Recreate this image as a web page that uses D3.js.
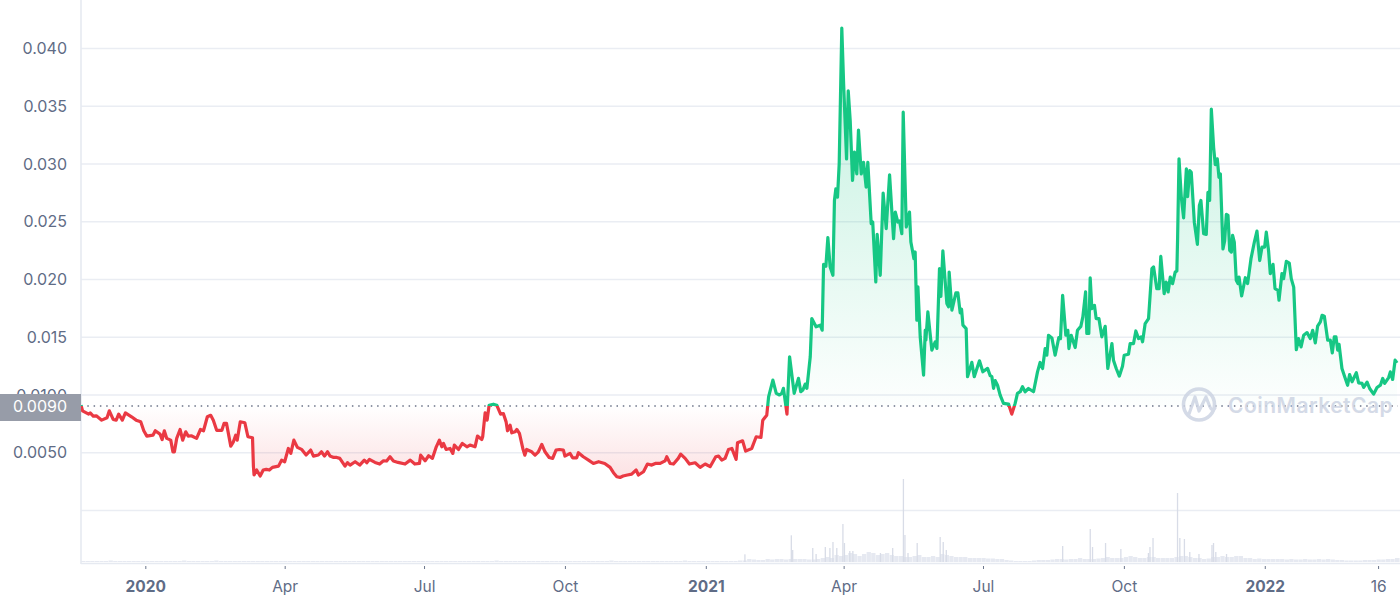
<!DOCTYPE html>
<html><head><meta charset="utf-8">
<script src="https://cdn.jsdelivr.net/npm/d3@7/dist/d3.min.js"></script>
<style>html,body{margin:0;padding:0;background:#fff;overflow:hidden}svg{display:block}
text{font-family:Inter,"Noto Sans",sans-serif}</style></head><body><div id="c"></div>
<script>
// [days since 2019-11-20, price USD]
const pricePoints=[[0,.00908],[1,.00859],[5,.0083],[6,.00841],[8,.00813],[10,.00815],[13.5,.00778],[17,.00798],[18.5,.00859],[21,.00784],[23,.00778],[24.6,.0083],[27,.00778],[29,.00841],[33,.00807],[36,.00778],[39,.00764],[41,.00686],[43,.0064],[47,.00648],[48.5,.00686],[51.6,.00657],[53,.0061],[54.4,.00686],[56,.0062],[58.6,.00605],[60,.00504],[61,.00504],[62.5,.0062],[64.7,.00697],[66.4,.00605],[68.4,.00677],[70,.0064],[72,.00643],[75.5,.0062],[78,.00697],[80,.00686],[82.5,.00807],[84.7,.0082],[86.4,.00778],[88.6,.0069],[92,.0069],[93.4,.0075],[95,.0075],[97.8,.00553],[99.5,.0059],[101,.00648],[102,.00605],[104,.00764],[107,.00755],[109,.00634],[112,.00625],[112.6,.00375],[113,.00303],[114.7,.00346],[117,.00294],[119,.00346],[121,.00352],[123,.00346],[125,.00369],[129,.0038],[131,.00432],[133,.00418],[135.4,.00533],[137,.0049],[139,.00605],[141.3,.00542],[144,.00525],[147,.00476],[150,.00519],[151.8,.00467],[155,.00476],[157,.00504],[159,.00467],[161,.00504],[162.6,.00467],[165,.00455],[167,.00455],[169,.00447],[172.4,.0038],[174,.0041],[175.7,.00389],[179,.00418],[182,.00389],[185,.00432],[186.6,.00409],[188.3,.00438],[192,.00412],[195,.00398],[197.5,.00426],[199.6,.00424],[201.8,.00461],[204,.00424],[207,.00412],[211.6,.00398],[215,.00432],[218,.00398],[221,.00403],[221.8,.00475],[224.7,.00426],[227,.0047],[229.5,.00447],[232,.00547],[234,.00605],[235.6,.00547],[236.7,.00576],[238.4,.00524],[241,.00533],[242.8,.0049],[243.8,.00562],[246.5,.00524],[249,.00576],[252,.00547],[254,.00562],[257.3,.00547],[258.9,.0064],[261.7,.0061],[262.3,.00634],[263.9,.00841],[265.2,.00778],[266.5,.00907],[269.3,.00916],[271.5,.00907],[274,.0083],[275.8,.00835],[277.6,.00763],[278.5,.00686],[280.2,.00735],[281.3,.00668],[283.5,.00677],[284.6,.00697],[286.3,.00663],[288.5,.00533],[289.8,.00475],[291,.00524],[294.3,.00504],[296.5,.00475],[298.7,.00504],[300.9,.00568],[303,.00504],[305.7,.00455],[308,.00447],[310.2,.00519],[312.4,.00524],[315,.00519],[316,.00467],[319.4,.0049],[321,.00452],[323.7,.00452],[324.8,.00496],[328,.00461],[331.4,.00432],[334.6,.00403],[338,.00418],[342,.00403],[345.5,.00369],[347.7,.00323],[349.9,.00288],[352,.00282],[354,.00294],[356.8,.00303],[359.6,.00311],[362.5,.00346],[364,.00303],[367.3,.00331],[369.9,.00398],[372.7,.00389],[375,.00403],[378.2,.00403],[381.4,.00426],[382.5,.00461],[384.7,.00403],[386.9,.00398],[390,.00447],[391.6,.00484],[394.5,.00447],[397.3,.00398],[401,.00409],[404.3,.00369],[407.6,.00398],[410.8,.00375],[414.5,.00461],[416.3,.00467],[418.4,.00432],[420.6,.00447],[422.8,.00524],[425,.00533],[427.8,.00438],[428.7,.00582],[432,.00599],[434,.0051],[438,.00533],[440.9,.00634],[444,.00628],[445.2,.00778],[447.8,.00821],[449,.0098],[451.8,.01125],[454,.0101],[456.1,.00996],[457.6,.0101],[458.7,.01053],[461,.0083],[462.7,.01327],[465.7,.0101],[468.5,.0114],[470,.01024],[471.4,.01039],[472.9,.0109],[474,.01053],[476.2,.01327],[477.2,.01658],[480,.01586],[482.7,.016],[484,.01557],[484.9,.02127],[486.4,.0211],[487.7,.02358],[489.2,.02104],[491,.02032],[492,.0268],[492.9,.0278],[494,.02709],[495.1,.02997],[496.8,.04172],[498,.03688],[499.9,.0304],[501,.0363],[502.3,.0337],[503.8,.02853],[505.1,.03098],[506.6,.0291],[507.7,.0329],[509.5,.0291],[511,.0301],[512.7,.02796],[513.8,.0301],[516,.02479],[517,.02493],[519,.01975],[519.9,.02387],[521.9,.02032],[523.8,.02744],[525.8,.02436],[528,.02902],[530.6,.02349],[531.7,.0258],[533.4,.02493],[534.5,.02502],[536,.02392],[536.9,.03444],[538.9,.0245],[541,.0258],[541.9,.0232],[543.9,.02176],[544.7,.02234],[545.8,.01644],[546.5,.01932],[548,.015],[550.2,.01168],[551.3,.01557],[551.7,.0147],[553,.01716],[555.6,.01384],[557.8,.01456],[558.9,.01399],[560.6,.0209],[561.5,.0185],[562.8,.02243],[565.4,.01788],[566.5,.01759],[566.9,.0206],[568.7,.0173],[571.3,.0188],[572.6,.0188],[574.1,.01707],[575,.01739],[575.9,.016],[578,.0157],[578.9,.01154],[581.7,.01278],[583.3,.01154],[586.7,.01292],[588.9,.01197],[592,.01226],[593.7,.01163],[594.8,.01154],[595.9,.01053],[597,.0112],[598.5,.0108],[600.2,.00995],[602.4,.00923],[605.7,.00917],[607.8,.0083],[610,.00923],[611.5,.01009],[613.3,.01024],[614.8,.01067],[616.5,.01024],[618.7,.01052],[622,.01024],[624.6,.01196],[626.3,.01277],[627.9,.01225],[629.6,.01398],[630.7,.0134],[631.8,.01513],[634,.0149],[636.1,.0134],[638.5,.01493],[639.6,.01484],[641,.01859],[643.1,.01513],[644.4,.01556],[645.1,.01398],[646.6,.01513],[649.2,.01407],[650.7,.01556],[652.9,.0159],[654.2,.01672],[656,.01888],[656.8,.01528],[658.1,.01528],[659,.0201],[660.1,.01744],[661.8,.01772],[662.9,.01657],[664.7,.01657],[666.6,.01499],[668.8,.0159],[670.5,.01225],[673.2,.01441],[674.2,.01297],[676,.01225],[678,.01159],[680.1,.01245],[681.2,.0134],[684,.01349],[685.1,.01441],[687.3,.01441],[688.8,.0155],[690.6,.01484],[692.3,.01499],[693.2,.01456],[694.9,.01614],[697.1,.01657],[699.3,.02089],[700.4,.02104],[702.5,.01916],[704,.01916],[705.1,.02196],[707.3,.01873],[708.6,.01974],[709.9,.01888],[711.3,.02017],[712.8,.0196],[714.5,.0206],[715.6,.0207],[716.1,.02363],[717,.0304],[718.5,.02708],[720,.0253],[721.8,.02953],[722.6,.02714],[724,.02939],[725,.02924],[727,.02492],[729,.023],[730.3,.02636],[731.3,.0268],[733.1,.02392],[734.8,.02386],[735.9,.0275],[737,.0268],[738.1,.0347],[739.6,.0314],[740.7,.0299],[742,.0304],[743.1,.0288],[744,.0291],[745.7,.0226],[746.8,.0233],[747.9,.02559],[749,.0255],[750.1,.02248],[751.2,.02233],[752,.02377],[753.1,.0232],[754.4,.01988],[755.5,.0196],[756.2,.02017],[757.9,.01853],[760.3,.02011],[761.8,.0196],[764,.02176],[766.2,.0232],[767.9,.02415],[769.7,.0216],[771.2,.02276],[772.9,.02276],[774,.02406],[775.5,.02242],[776.6,.02046],[778.4,.02127],[779.7,.01916],[781.6,.01902],[782.3,.01816],[784.2,.02046],[785.3,.02003],[787.1,.02153],[789,.02138],[790.3,.02003],[791.9,.0193],[793.6,.01389],[795.1,.01484],[796.7,.01412],[798.4,.01513],[800.6,.01536],[802.7,.01484],[804.3,.01556],[806,.01447],[807.5,.01591],[809.3,.01628],[810.4,.01686],[811.9,.01677],[814.1,.0147],[815.8,.0147],[817.1,.0136],[818.4,.01499],[819.5,.01499],[820.6,.01384],[821.5,.01435],[823.4,.01225],[825.2,.01153],[827.1,.0108],[828.4,.01173],[830,.0111],[832.8,.01188],[834.3,.01101],[836.5,.01096],[837.6,.01061],[839.8,.01107],[841.5,.01052],[844.1,.01003],[846.3,.01061],[848.5,.01081],[850,.01139],[851.3,.01096],[853.9,.01147],[855,.01196],[856.5,.0113],[858.1,.01297],[859.4,.01274]];
const baselinePrice=0.009;
const baselineLabel="0.0090";
const yTickValues=[0,0.005,0.01,0.015,0.02,0.025,0.03,0.035,0.04];
const yTickLabels=["","0.0050","0.0100","0.015","0.020","0.025","0.030","0.035","0.040"];
const xTickDates=["2020-01-01","2020-04-01","2020-07-01","2020-10-01","2021-01-01","2021-04-01","2021-07-01","2021-10-01","2022-01-01","2022-03-16"];
const xTickLabels=["2020","Apr","Jul","Oct","2021","Apr","Jul","Oct","2022","16"];
const xTickBold=["2020","2021","2022"];
// background volume: one value per 3 days from the start (relative units)
const volumeBase=[1,1,1,1,1,1,1.5,1,1,1,1,1,1,1,1,1,1,1,1,1,1,1,1.5,1,1,1,1,1,1,1.5,1,1,1,1,1,1,1,1,1,1,1,1,1,1,1,1,1,1,1,1,1,1,1,1,1,1,1,1,1,1,1,1,1,1,1,1,1,1,1,1,1,1,1,1,1,1,1,1,1,1,1,1,1,1,1,1,1,1,1,1,1.5,1,1,1,1,1,1,1,1,1,1,1,1,1,1,1,1,1,1,1,1,1,1,1,1,1.5,1,1,1,1,1,1,1,1,1,1,1,1,1,1,1,1.5,1,1,1,1,1,1,1,1,1,1,1,1.5,1.5,3,2.5,2,2,3,2.5,3,3,2.5,3,3,3,3,2.5,2.5,3,4,5,4,7,6,7,9,8,6,8,10,9,7,8,9,7,6,6,5,5,6,7,5,5,6,5,8,7,6,5,5,5,4,4,4,4,3.5,3.5,3,3,2,1.5,1,1,1,1,1.5,2,2,2,2.5,3,3,2.5,3,3,4,3,3,3,3.5,4,5,4,4,4,5,6,5,4,4,5,5,4,4,4,4,5,6,6,5,4,4,3,3.5,5,5,6,5,5,6,6,4,4,3,3.5,3,3,3,3,3,2.5,3,2.5,2.5,3,2.5,2.5,3,2.5,3,2.5,2,2,1.5,1.5,1.5,1.5,2,2,2,2.5,2.5,3,3,4,4];
// isolated volume spikes: [days since 2019-11-20, volume]
const volumeSpikes=[[433.5,7.7],[463.8,26.7],[464.7,12],[477.8,14],[480,8],[486,15],[489,14],[491,20],[493.5,14],[497.5,38],[498.5,19],[502,11],[504,11],[522,9],[530,14],[537,83],[538,27],[540,9],[546,19],[561,25],[563,20],[565,12],[641,16],[659,33],[660.5,15],[669,19],[679,13],[697,9],[698,15],[700,24],[716,69],[717.5,24],[720.5,23],[724,10],[730,8],[738.5,17],[739.5,19],[741,10],[748,8]];

const W=1400,H=603;
const startDate=new Date(2019,10,20);
const toDate=d=>new Date(+startDate+d*864e5);
const x=d3.scaleTime().domain([startDate,toDate(860)]).range([81,1398]);
const y=d3.scaleLinear().domain([0,0.04]).range([510,48]);
const yVol=d3.scaleLinear().domain([0,83]).range([562,479]);
const base=y(baselinePrice);

const svg=d3.select("#c").append("svg").attr("width",W).attr("height",H);
const defs=svg.append("defs");
function grad(id,y1,y2,color,a1,a2){
  const g=defs.append("linearGradient").attr("id",id).attr("gradientUnits","userSpaceOnUse").attr("x1",0).attr("x2",0).attr("y1",y1).attr("y2",y2);
  g.append("stop").attr("offset",0).attr("stop-color",color).attr("stop-opacity",a1);
  g.append("stop").attr("offset",1).attr("stop-color",color).attr("stop-opacity",a2);
}
grad("gUp",y(0.042),base,"#16c784",0.28,0.01);
grad("gDown",base,y(0.0028),"#ea3943",0,0.15);
defs.append("clipPath").attr("id","cUp").append("rect").attr("x",0).attr("y",0).attr("width",W).attr("height",base);
defs.append("clipPath").attr("id","cDown").append("rect").attr("x",0).attr("y",base).attr("width",W).attr("height",H-base);

// gridlines
svg.append("g").selectAll("line").data(yTickValues).join("line")
  .attr("x1",81).attr("x2",W).attr("y1",d=>y(d)+.5).attr("y2",d=>y(d)+.5)
  .attr("stroke","#eaedf3").attr("stroke-width",1.4);

// volume
svg.append("g").selectAll("rect").data(volumeBase).join("rect")
  .attr("x",(d,i)=>x(toDate(i*3))).attr("width",x(toDate(3))-x(toDate(0))-.3)
  .attr("y",d=>yVol(d)).attr("height",d=>yVol(0)-yVol(d)).attr("fill","#e6e9f1");
svg.append("g").selectAll("rect").data(volumeSpikes).join("rect")
  .attr("x",d=>x(toDate(d[0]))-.6).attr("width",1.3)
  .attr("y",d=>yVol(d[1])).attr("height",d=>yVol(0)-yVol(d[1])).attr("fill","#d8dce7");

// axis lines
svg.append("line").attr("x1",81).attr("x2",81).attr("y1",0).attr("y2",564).attr("stroke","#e6eaf1").attr("stroke-width",1.6);
svg.append("line").attr("x1",81).attr("x2",W).attr("y1",563.5).attr("y2",563.5).attr("stroke","#e6eaf1").attr("stroke-width",1.6);

// area + line
const pts=pricePoints.map(d=>[toDate(d[0]),d[1]]);
const area=d3.area().x(d=>x(d[0])).y0(base).y1(d=>y(d[1]));
const line=d3.line().x(d=>x(d[0])).y(d=>y(d[1]));
svg.append("path").attr("d",area(pts)).attr("fill","url(#gUp)").attr("clip-path","url(#cUp)");
svg.append("path").attr("d",area(pts)).attr("fill","url(#gDown)").attr("clip-path","url(#cDown)");

// baseline
svg.append("line").attr("x1",81).attr("x2",1398).attr("y1",base).attr("y2",base)
  .attr("stroke","#6b7388").attr("stroke-width",1.5).attr("stroke-dasharray","1.5,4.8");

svg.append("path").attr("d",line(pts)).attr("fill","none").attr("stroke","#16c784").attr("stroke-width",3.2).attr("stroke-linejoin","round").attr("clip-path","url(#cUp)");
svg.append("path").attr("d",line(pts)).attr("fill","none").attr("stroke","#ea3943").attr("stroke-width",3.2).attr("stroke-linejoin","round").attr("clip-path","url(#cDown)");

// y axis labels
const yAxis=d3.axisLeft(y).tickValues(yTickValues).tickSize(0).tickPadding(0)
  .tickFormat(d=>yTickLabels[yTickValues.indexOf(d)]);
const gy=svg.append("g").attr("transform","translate(67,0)").call(yAxis);
gy.select(".domain").remove();
gy.selectAll("text").attr("fill","#5f6c86").attr("font-size",16).attr("dy","0.35em")
  .attr("font-family",'Inter,"Noto Sans",sans-serif');

// x axis
const xDates=xTickDates.map(s=>d3.timeParse("%Y-%m-%d")(s));
const xAxis=d3.axisBottom(x).tickValues(xDates).tickSize(3).tickSizeOuter(0).tickPadding(12)
  .tickFormat((d,i)=>xTickLabels[i]);
const gx=svg.append("g").attr("transform","translate(0,566)").call(xAxis);
gx.select(".domain").remove();
gx.selectAll("line").attr("stroke","#6b768c").attr("stroke-width",1);
gx.selectAll("text").attr("fill","#5f6c86").attr("font-size",15.5)
  .attr("font-family",'Inter,"Noto Sans",sans-serif')
  .attr("font-weight",(d,i)=>xTickBold.includes(xTickLabels[i])?700:400);

// baseline label box
svg.append("rect").attr("x",0).attr("y",394).attr("width",81).attr("height",27).attr("fill","#979ca8");
svg.append("text").attr("x",40).attr("y",base+.5).attr("dy","0.35em").attr("text-anchor","middle").attr("fill","#fff").attr("font-size",16).text(baselineLabel);

// watermark
const wm=svg.append("g").attr("opacity",.85);
wm.append("circle").attr("cx",1199).attr("cy",404.5).attr("r",15.5).attr("fill","none").attr("stroke","#cdd4e3").attr("stroke-width",3.6);
wm.append("path").attr("d","M1189 414 L1195 397 L1199 411 L1206 397 L1210 407 Q1212 412 1215 408").attr("fill","none").attr("stroke","#cdd4e3").attr("stroke-width",3.2).attr("stroke-linejoin","round").attr("stroke-linecap","round");
wm.append("text").attr("x",1228).attr("y",413).attr("fill","#cdd4e3").attr("font-size",21).attr("font-weight",600).attr("letter-spacing",.5).text("CoinMarketCap");
</script></body></html>
